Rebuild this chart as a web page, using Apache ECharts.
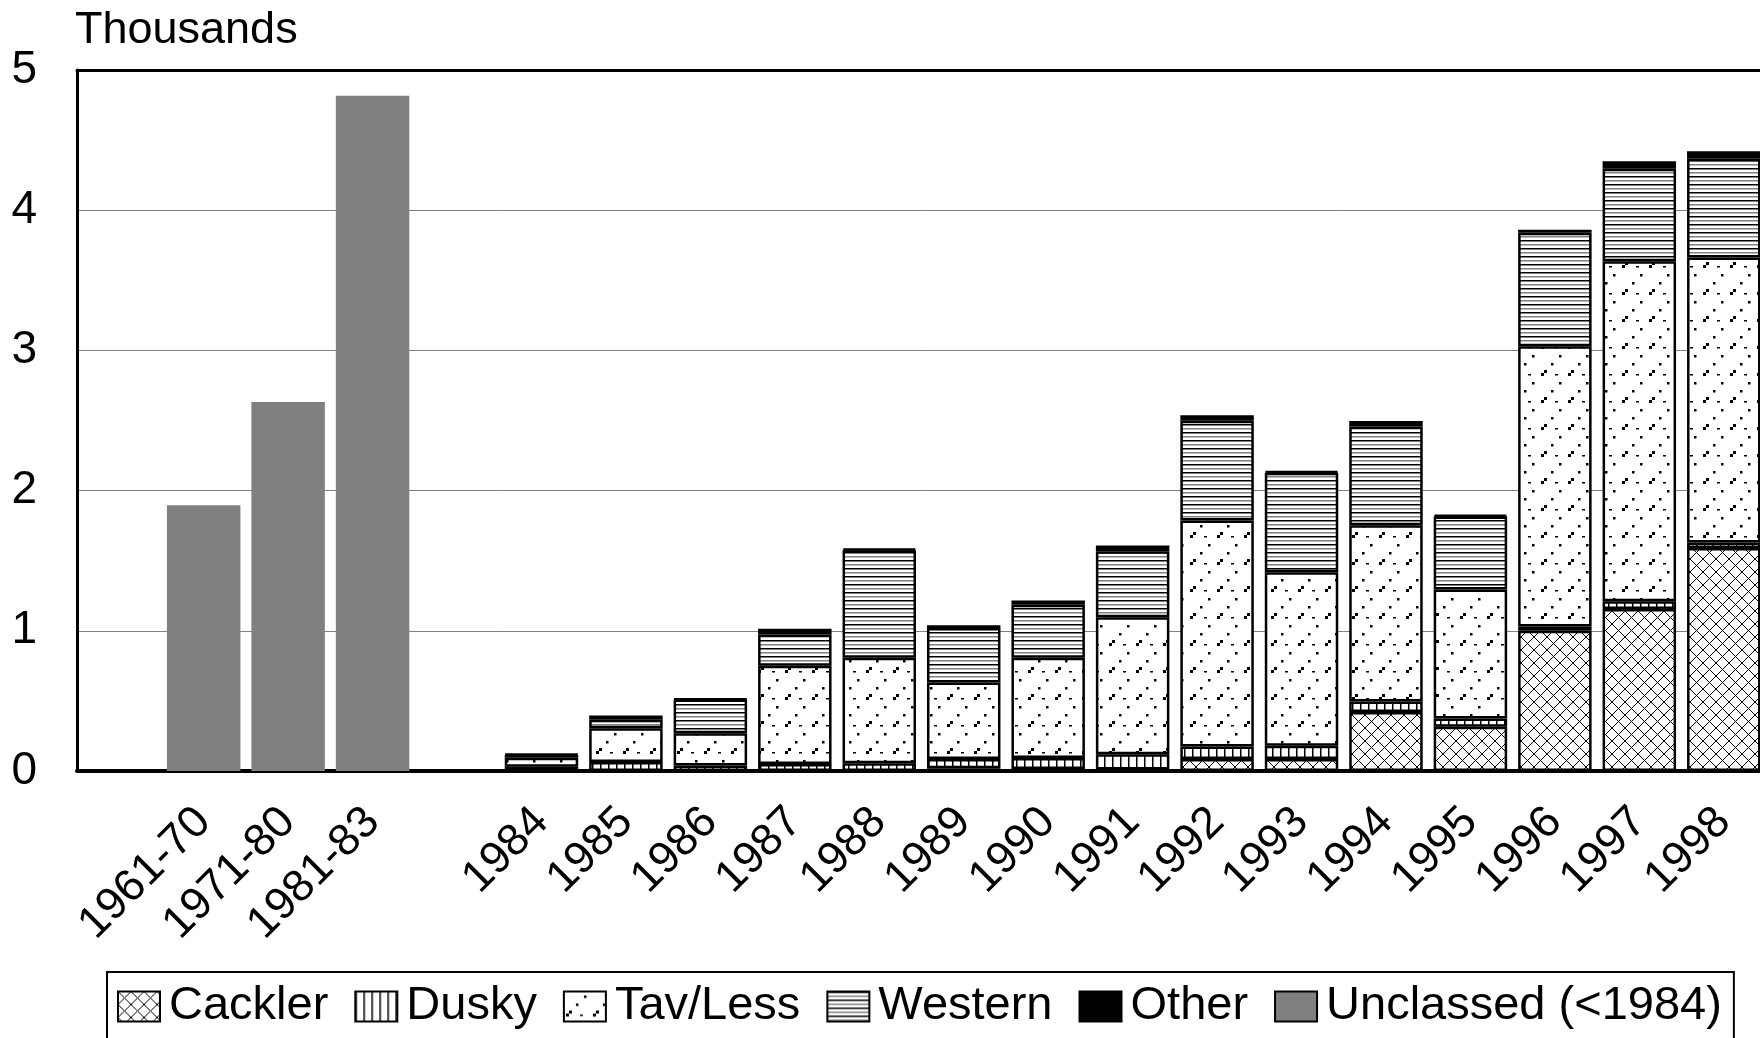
<!DOCTYPE html>
<html>
<head>
<meta charset="utf-8">
<script src="https://cdn.jsdelivr.net/npm/echarts@6/dist/echarts.min.js"></script>
<style>
  html, body { margin: 0; padding: 0; background: #fff; overflow: hidden; }
  /* a bit wider than the window so the last bar gets cut like the original */
  #main { width: 1766px; height: 1038px; }
</style>
</head>
<body>
<div id="main"></div>
<script>
// categories (blank ones leave the gaps)
let categories = ['', '1961-70', '1971-80', '1981-83', '',
    '1984', '1985', '1986', '1987', '1988', '1989', '1990', '1991',
    '1992', '1993', '1994', '1995', '1996', '1997', '1998'];

// thousands, 1984-1998
let cackler = [0, 0, 0, 0, 0, 0.02, 0.015, 0.01, 0.085, 0.085, 0.42, 0.315, 1.0, 1.155, 1.59];
let dusky = [0.03, 0.065, 0.04, 0.05, 0.055, 0.065, 0.078, 0.11, 0.09, 0.095, 0.075, 0.06, 0.03, 0.055, 0.04];
let tavLess = [0.065, 0.24, 0.23, 0.70, 0.753, 0.547, 0.715, 0.976, 1.611, 1.238, 1.258, 0.92, 2.0, 2.425, 2.032];
let western = [0.02, 0.06, 0.24, 0.224, 0.766, 0.388, 0.378, 0.472, 0.712, 0.71, 0.704, 0.52, 0.81, 0.66, 0.705];
let other = [0.005, 0.03, 0.005, 0.04, 0.01, 0.02, 0.03, 0.04, 0.04, 0.01, 0.04, 0.01, 0.02, 0.054, 0.054];
// 1961-70, 1971-80, 1981-83
let unclassed = [1.896, 2.632, 4.816];

let yTicks = [0, 1, 2, 3, 4, 5];

let font = "'Liberation Sans', Arial, sans-serif";

// put the yearly values into the 20 slots
function yearly(arr) {
    return ['-', '-', '-', '-', '-'].concat(arr);
}
function early(arr) {
    return ['-'].concat(arr, ['-'], new Array(15).fill('-'));
}

// hatch fills
function tile(w, h, draw) {
    let c = document.createElement('canvas');
    c.width = w;
    c.height = h;
    let ctx = c.getContext('2d');
    ctx.fillStyle = '#fff';
    ctx.fillRect(0, 0, w, h);
    draw(ctx);
    return { image: c, repeat: 'repeat' };
}

let crossFill = tile(13, 13, function(ctx) {
    ctx.strokeStyle = '#000';
    ctx.lineWidth = 1;
    ctx.beginPath();
    ctx.moveTo(0, 0); ctx.lineTo(13, 13);
    ctx.moveTo(13, 0); ctx.lineTo(0, 13);
    ctx.stroke();
});
let vertFill = tile(8, 8, function(ctx) {
    ctx.fillStyle = '#000';
    ctx.fillRect(0, 0, 1.5, 8);
});
let dotFill = tile(27, 27, function(ctx) {
    ctx.fillStyle = '#000';
    ctx.fillRect(2, 22, 3, 3);
    ctx.fillRect(5, 19, 3, 3);
    ctx.fillRect(12, 12, 2.5, 2.5);
    ctx.fillRect(20, 4, 2.5, 2.5);
    ctx.fillRect(16, 23, 3, 1.5);
});
let horizFill = tile(8, 8, function(ctx) {
    ctx.fillStyle = '#000';
    ctx.fillRect(0, 0, 8, 1.5);
    ctx.fillStyle = '#808080';
    ctx.fillRect(0, 4, 8, 1.5);
});

let chart = echarts.init(document.getElementById('main'));

function stackSeries(name, data, fill) {
    return {
        name: name,
        type: 'bar',
        stack: 'all',
        barCategoryGap: '13%',
        data: yearly(data),
        itemStyle: { color: fill, borderColor: '#000', borderWidth: 2.5 },
        emphasis: { disabled: true }
    };
}

let option = {
    animation: false,
    backgroundColor: '#fff',
    textStyle: { fontFamily: font },
    graphic: [{
        type: 'text',
        left: 75,
        top: 8,
        style: { text: 'Thousands', font: '45px ' + font, fill: '#000' }
    }],
    grid: { left: 77, right: 0, top: 70, bottom: 267 },
    legend: {
        left: 107,
        top: 972,
        padding: [11, 12, 40, 10],
        borderColor: '#000',
        borderWidth: 2,
        itemWidth: 42,
        itemHeight: 30,
        itemGap: 26,
        icon: 'rect',
        itemStyle: { borderColor: '#000', borderWidth: 2 },
        textStyle: { fontSize: 47, color: '#000', fontFamily: font, padding: [0, 0, 0, 4] },
        data: ['Cackler', 'Dusky', 'Tav/Less', 'Western', 'Other', 'Unclassed (<1984)']
    },
    xAxis: [{
        type: 'category',
        data: categories,
        axisLine: { lineStyle: { color: '#000', width: 4 } },
        axisTick: { show: false },
        axisLabel: {
            interval: 0,
            rotate: 45,
            margin: 44,
            fontSize: 45,
            color: '#000',
            fontFamily: font
        }
    }, {
        type: 'category',
        position: 'top',
        data: categories,
        axisLine: { lineStyle: { color: '#000', width: 3 } },
        axisTick: { show: false },
        axisLabel: { show: false }
    }],
    yAxis: {
        type: 'value',
        min: yTicks[0],
        max: yTicks[yTicks.length - 1],
        interval: 1,
        axisLine: { show: true, lineStyle: { color: '#000', width: 3 } },
        axisTick: { show: false },
        axisLabel: { margin: 40, fontSize: 46, color: '#000', fontFamily: font },
        splitLine: { lineStyle: { color: '#808080', width: 1 } }
    },
    series: [
        stackSeries('Cackler', cackler, crossFill),
        stackSeries('Dusky', dusky, vertFill),
        stackSeries('Tav/Less', tavLess, dotFill),
        stackSeries('Western', western, horizFill),
        stackSeries('Other', other, '#000'),
        {
            name: 'Unclassed (<1984)',
            type: 'bar',
            stack: 'all',
            data: early(unclassed),
            itemStyle: { color: '#808080', borderWidth: 0 },
            emphasis: { disabled: true }
        }
    ]
};
chart.setOption(option);
</script>
</body>
</html>
